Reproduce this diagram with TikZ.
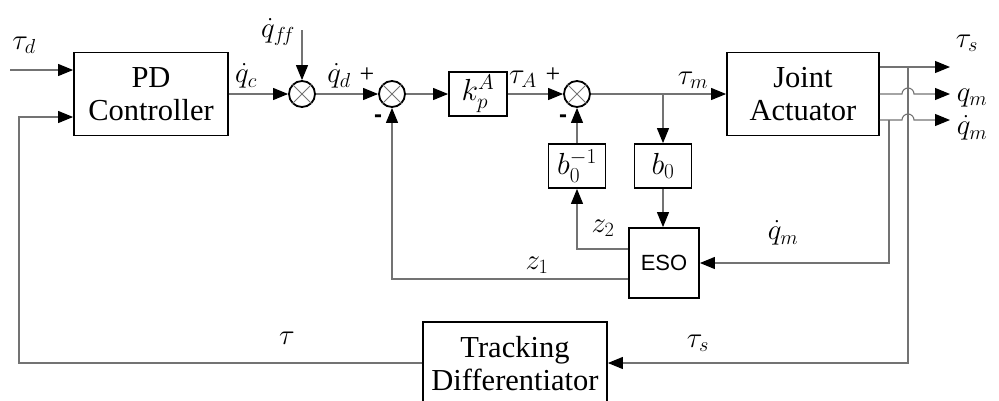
\RequirePackage{fix-cm}
\documentclass[tikz,border=0pt]{standalone}
\usepackage{fontspec}
\setmainfont{Liberation Serif}
\newfontfamily\sansf{Liberation Sans}
\usetikzlibrary{arrows.meta}
\begin{document}
\begin{tikzpicture}[x=1pt,y=-1pt,
  blk/.style={draw,line width=1.8pt,inner sep=0pt,align=center,font=\fontsize{30.5}{33}\selectfont},
  sm/.style={draw,line width=1.8pt,circle,minimum size=26pt,inner sep=0pt},
  ln/.style={draw=black!55,line width=1.1pt},
  arr/.style={ln,-{Triangle[length=15pt,width=12pt,color=black]}},
  lab/.style={font=\fontsize{29}{30}\selectfont,inner sep=0pt},
  sgn/.style={font=\fontsize{26}{26}\selectfont,inner sep=0pt},
  msgn/.style={font=\sansf\bfseries\fontsize{24}{24}\selectfont,inner sep=0pt},
  crs/.style={draw=black!55,line width=0.8pt}
]
\useasboundingbox (0,0) rectangle (999,400);
% blocks
\node[blk,minimum width=154pt,minimum height=83pt] (pd) at (151,94) {PD\\Controller};
\node[blk,minimum width=58pt,minimum height=44pt] (kp) at (478,94) {$k_p^A$};
\node[blk,minimum width=152pt,minimum height=83pt] (ja) at (803,94) {Joint\\Actuator};
\node[blk,minimum width=57pt,minimum height=44pt] (binv) at (577,166) {$b_0^{-1}$};
\node[blk,minimum width=57pt,minimum height=44pt] (b0) at (663,166) {$b_0$};
\node[blk,minimum width=70pt,minimum height=70pt,font=\sansf\fontsize{22}{24}\selectfont] (eso) at (664,263) {ESO};
\node[blk,minimum width=184pt,minimum height=84pt] (td) at (515,364) {Tracking\\Differentiator};
% summers
\foreach \n/\x in {s0/302,s1/392,s2/577}{
  \node[sm] (\n) at (\x,94) {};
  \draw[crs] (\n.north west) -- (\n.south east);
  \draw[crs] (\n.north east) -- (\n.south west);
}
% coordinates
\coordinate (tdin) at (10,70);
\coordinate (ffin) at (302,30);
\coordinate (fbA) at (19,363);
\coordinate (fbB) at (19,117);
\coordinate (br) at (663,94);
\coordinate (z2c) at (577,249);
\coordinate (z1c) at (392,279);
\coordinate (o1) at (950,67);
\coordinate (o2) at (950,94);
\coordinate (o3) at (950,120);
\coordinate (vA) at (908,67);
\coordinate (vAb) at (908,363);
\coordinate (vB) at (889,120);
\coordinate (vBb) at (889,263);
% connectors
\draw[arr] (tdin) -- (pd.west|-tdin);
\draw[arr] (td.west|-fbA) -- (fbA) -- (fbB) -- (pd.west|-fbB);
\draw[arr] (pd.east) -- (s0.west);
\draw[arr] (ffin) -- (s0.north);
\draw[arr] (s0.east) -- (s1.west);
\draw[arr] (s1.east) -- (kp.west);
\draw[arr] (kp.east) -- (s2.west);
\draw[arr] (s2.east) -- (ja.west);
\draw[arr] (br) -- (b0.north);
\draw[arr] (b0.south) -- (b0.south|-eso.north);
\draw[arr] (eso.west|-z2c) -- (z2c) -- (binv.south);
\draw[arr] (binv.north) -- (s2.south);
\draw[arr] (eso.west|-z1c) -- (z1c) -- (s1.south);
\draw[arr] (ja.east|-o1) -- (o1);
\draw[arr] (ja.east|-o2) -- (902,94) arc (180:360:6) -- (o2);
\draw[arr] (ja.east|-o3) -- (902,120) arc (180:360:6) -- (o3);
\draw[arr] (vA) -- (vAb) -- (td.east|-vAb);
\draw[arr] (vB) -- (vBb) -- (eso.east);
% labels
\node[lab] (l1) at (24,45) {$\tau_d$};
\node[lab] (l2) at (278,32) {$\dot q_{f\!f}$};
\node[lab] (l3) at (246,76) {$\dot q_c$};
\node[lab] (l4) at (339,76) {$\dot q_d$};
\node[sgn] (p1) at (367,75) {+};
\node[msgn] (m1) at (378,119) {-};
\node[lab] (l5) at (523,79) {$\tau_A$};
\node[sgn] (p2) at (553,75) {+};
\node[msgn] (m2) at (563,119) {-};
\node[lab] (l6) at (693,80) {$\tau_m$};
\node[lab] (l7) at (967,43) {$\tau_s$};
\node[lab] (l8) at (972,98) {$q_m$};
\node[lab] (l9) at (972,128) {$\dot q_m$};
\node[lab] (l10) at (783,233) {$\dot q_m$};
\node[lab] (l11) at (603,228) {$z_2$};
\node[lab] (l12) at (537,265) {$z_1$};
\node[lab] (l13) at (287,338) {$\tau$};
\node[lab] (l14) at (698,343) {$\tau_s$};
\end{tikzpicture}
\end{document}
